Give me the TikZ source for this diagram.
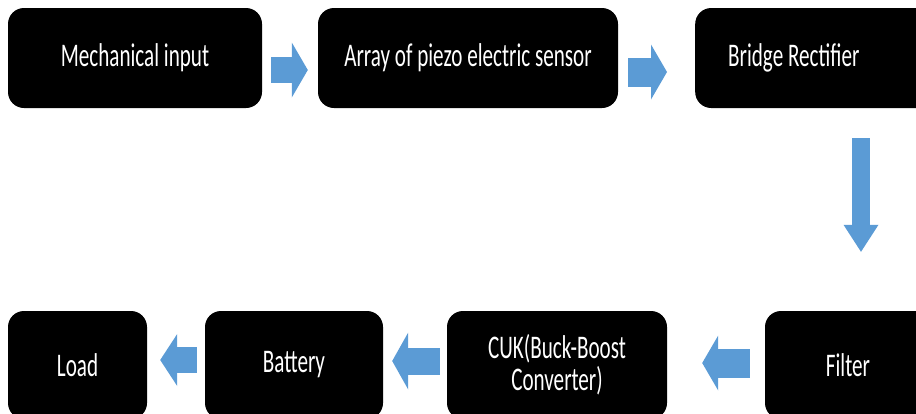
\documentclass[tikz,border=0pt]{standalone}
\usepackage{fontspec}
\usepackage{xcolor}
\usetikzlibrary{arrows.meta,positioning,calc}
\newfontfamily\boxfont[FakeStretch=0.64]{Carlito}
\definecolor{flowblue}{RGB}{91,155,213}

\begin{document}
\begin{tikzpicture}[
  x=1pt,y=-1pt,
  box/.style={fill=black,rounded corners=16pt,text=white,inner sep=0pt,
    font=\boxfont\fontsize{33}{32}\selectfont,align=center,minimum height=100pt},
  low/.style={box,minimum height=108pt},
  flow/.style n args={3}{draw=flowblue,line width=#1,
    -{Triangle[length=#3,width=#2,line width=0pt]}}
]
\useasboundingbox (0,0) rectangle (916,413);
\clip (0,0) rectangle (916,413);
% top row
\node[box,minimum width=254pt] (mech) at (135,58) {Mechanical input};
\node[box,minimum width=300pt] (piezo) at (468,58) {Array of piezo electric sensor};
\node[box,anchor=west,align=flush left,text width=174pt,inner xsep=33pt] (bridge) at (695,58) {Bridge Rectifier};
% bottom row
\node[low,minimum width=139pt] (load) at (77.5,365) {Load};
\node[low,minimum width=178pt] (batt) at (294,365) {Battery};
\node[low,minimum width=220pt] (cuk) at (557,365) {CUK(Buck-Boost\\Converter)};
\node[low,minimum width=166pt] (filter) at (848,365) {Filter};
\coordinate (dn) at (861,0);
% arrows
\draw[flow={26pt}{55pt}{16pt},shorten <=9pt,shorten >=10pt]
  ($(mech.east)+(0,12)$) -- ($(piezo.west)+(0,12)$);
\draw[flow={29pt}{55pt}{16pt},shorten <=10pt,shorten >=28pt]
  ($(piezo.east)+(0,14)$) -- ($(bridge.west)+(0,14)$);
\draw[flow={18pt}{35pt}{27pt},shorten <=30pt,shorten >=59pt]
  (dn |- bridge.south) -- (dn |- filter.north);
\draw[flow={29pt}{55pt}{16pt},shorten <=15pt,shorten >=35pt]
  ($(filter.west)+(0,-2)$) -- ($(cuk.east)+(0,-2)$);
\draw[flow={27pt}{57pt}{16pt},shorten <=7pt,shorten >=9pt]
  ($(cuk.west)+(0,-4)$) -- ($(batt.east)+(0,-4)$);
\draw[flow={26pt}{52pt}{17pt},shorten <=8pt,shorten >=13pt]
  ($(batt.west)+(0,-5)$) -- ($(load.east)+(0,-5)$);
\end{tikzpicture}
\end{document}
